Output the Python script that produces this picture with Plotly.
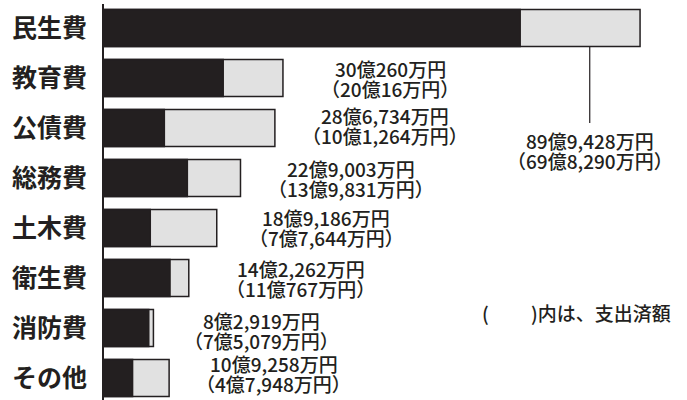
import plotly.graph_objects as go

categories = ["民生費", "教育費", "公債費", "総務費", "土木費", "衛生費", "消防費", "その他"]
budget_man = [899428, 300260, 286734, 229003, 189186, 142262, 82919, 109258]   # 万円
spent_man = [698290, 200016, 101264, 139831, 77644, 110767, 75079, 47948]       # 万円
note_text = "(　　 )内は、支出済額"

# label placement (layout only): x in 億円 units, downward pixel shift
label_x = [81.5, 48.0, 47.2, 41.5, 37.3, 33.0, 26.5, 28.5]
label_down = [122, 0, -3, 0, -1, 0, 2, -4.5]

def fmt(v):
    oku, man = divmod(v, 10000)
    return f"{oku}億{man:,}万円" if man else f"{oku}億円"

budget = [v / 10000 for v in budget_man]
spent = [v / 10000 for v in spent_man]

INK = "#231f20"
fig = go.Figure()
fig.add_trace(go.Bar(y=categories, x=budget, orientation="h", width=0.74,
                     marker=dict(color="#e1e1e1", line=dict(color=INK, width=1.5)),
                     showlegend=False, hoverinfo="skip"))
fig.add_trace(go.Bar(y=categories, x=spent, orientation="h", width=0.74,
                     marker=dict(color=INK, line=dict(color=INK, width=1.5)),
                     showlegend=False, hoverinfo="skip"))

lab_font = dict(family="Noto Sans CJK JP", size=19, color=INK, weight=500)
for i, c in enumerate(categories):
    ys = -label_down[i]
    fig.add_annotation(x=label_x[i], y=c, xref="x", yref="y", text=fmt(budget_man[i]),
                       showarrow=False, font=lab_font, xanchor="center", yanchor="middle",
                       yshift=10 + ys)
    fig.add_annotation(x=label_x[i], y=c, xref="x", yref="y",
                       text="（" + fmt(spent_man[i]) + "）",
                       showarrow=False, font=lab_font, xanchor="center", yanchor="middle",
                       yshift=-10 + ys)

# leader line for 民生費
fig.add_shape(type="line", xref="x", yref="y", x0=81.5, x1=81.5, y0=0.37, y1=1.9,
              line=dict(color=INK, width=1.2))

fig.add_annotation(x=1.0, y=0.22, xref="paper", yref="paper", text=note_text,
                   showarrow=False, font=lab_font, xanchor="right", yanchor="middle",
                   xshift=-14)

fig.update_layout(
    width=687, height=400, margin=dict(l=104, r=0, t=4, b=0, autoexpand=False),
    paper_bgcolor="white", plot_bgcolor="white", barmode="overlay",
    xaxis=dict(range=[0, 583 / 5.96], visible=False, fixedrange=True, automargin=False),
    yaxis=dict(range=[7.44, -0.48], showline=True, linecolor=INK, linewidth=2,
               showgrid=False, zeroline=False, ticks="", ticklabelstandoff=10,
               automargin=False, fixedrange=True,
               tickfont=dict(family="Noto Sans CJK JP", size=25, color=INK, weight="bold")),
)
fig.write_html("out.html", config={"displayModeBar": False},
               post_script="document.body.style.margin='0';document.body.style.overflow='hidden';")
